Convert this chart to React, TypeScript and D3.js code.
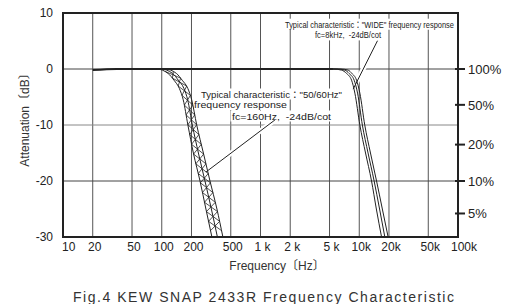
import React, { useEffect, useRef } from 'react'
import * as d3 from 'd3'

const W = 508
const H = 304
const margin = { left: 63, right: 50, top: 13, bottom: 67 }

// axis ticks
const freqTicks = [10, 20, 50, 100, 200, 500, 1000, 2000, 5000, 10000, 20000, 50000, 100000]
const freqLabels = ['10', '20', '50', '100', '200', '500', '1 k', '2 k', '5 k', '10k', '20k', '50k', '100k']
const gridFreqs = [20, 50, 100, 200, 500, 1000, 2000, 5000, 10000, 20000, 50000]
const dbTicks = [10, 0, -10, -20, -30]
const gridDb = [0, -10, -20]
const pctLabels = ['100%', '50%', '20%', '10%', '5%']
const pctDb = [0, -6.4, -13.5, -20, -25.8]

// common flat part of both responses
const flatFreq = [20, 35, 5400]
const flatDb = [-0.2, 0, 0]

// "50/60Hz" low-pass band (min / typical / max)
const lpfDb = [0, 0, -0.8, -2, -3.5, -5.5, -10, -15, -20, -25, -30]
const lpfLow = [70, 89, 116, 133, 151, 165, 184, 209, 244, 280, 322]
const lpfMid = [75, 98, 129, 147, 168, 183, 204, 235, 274, 318, 366]
const lpfHigh = [80, 108, 141, 161, 184, 201, 226, 264, 308, 362, 416]

// "WIDE" band
const wideDb = [0, 0, -0.2, -0.8, -2, -4.3, -10, -15, -20, -25, -30]
const wideLow = [4500, 5400, 6620, 7440, 8360, 9030, 10140, 11580, 13320, 14900, 16820]
const wideMid = [4800, 5930, 7150, 7900, 8880, 9610, 10750, 12280, 14150, 16060, 18160]
const wideHigh = [5100, 6510, 7720, 8420, 9390, 10140, 11370, 12990, 14970, 17130, 19610]

// annotation leaders [freq, dB]
const wideLeader = [[15300, 5.05], [8670, -3.6]]
const lpfLeader = [[1400, -9.1], [280, -18.4]]

const wideNote = [
  { text: 'Typical characteristic：\u0022WIDE\u0022 frequency response', x: 285, y: 27.7, len: 169 },
  { text: 'fc=8kHz,  -24dB/cot', x: 315, y: 38.4, len: 66 },
]
const lpfNote = [
  { text: 'Typical characteristic：\u002250/60Hz\u0022', x: 201, y: 97.5, len: 141 },
  { text: 'frequency response', x: 194, y: 108, len: 93 },
  { text: 'fc=160Hz,  -24dB/cot', x: 232, y: 119.5, len: 99 },
]

const font = "'Liberation Sans', Arial, 'Noto Sans CJK JP', sans-serif"
const ink = '#222'

export default function App() {
  const lowRef = useRef<SVGPathElement>(null)
  const midRef = useRef<SVGPathElement>(null)
  const highRef = useRef<SVGPathElement>(null)
  const hatchRef = useRef<SVGGElement>(null)

  const x = d3.scaleLog().domain([10, 100000]).range([margin.left, W - margin.right])
  const y = d3.scaleLinear().domain([-30, 10]).range([H - margin.bottom, margin.top])

  const line = d3.line<[number, number]>()
    .x(d => x(d[0]))
    .y(d => y(d[1]))
    .curve(d3.curveMonotoneX)

  const pts = (fs: number[], dbs: number[]) => fs.map((f, i) => [f, dbs[i]] as [number, number])

  useEffect(() => {
    // cross hatching between the outer curves of the 50/60Hz band
    const sample = (p: SVGPathElement) => {
      const n = p.getTotalLength()
      const out: number[][] = []
      for (let s = 0; s <= n; s += 0.5) {
        const q = p.getPointAtLength(s)
        out.push([q.x, q.y])
      }
      return out
    }
    const lo = sample(lowRef.current!)
    const hi = sample(highRef.current!)
    const mid = sample(midRef.current!)
    const xAt = (arr: number[][], yy: number) => {
      for (let i = 0; i < arr.length - 1; i++) {
        const a = arr[i], b = arr[i + 1]
        if (b[1] !== a[1] && yy >= a[1] && yy <= b[1]) {
          return a[0] + (b[0] - a[0]) * (yy - a[1]) / (b[1] - a[1])
        }
      }
      return arr[arr.length - 1][0]
    }
    const stations: number[] = []
    const yStart = y(-0.4)
    let acc = 0
    for (let i = 1; i < mid.length; i++) {
      const d = Math.hypot(mid[i][0] - mid[i - 1][0], mid[i][1] - mid[i - 1][1])
      if (mid[i][1] < yStart) continue
      acc += d
      if (stations.length === 0 || acc >= 9.5) {
        stations.push(mid[i][1])
        acc = 0
      }
    }
    const segs: number[][] = []
    for (let k = 0; k < stations.length - 1; k++) {
      const y0 = stations[k], y1 = stations[k + 1]
      segs.push([xAt(lo, y0), y0, xAt(hi, y1), y1])
      segs.push([xAt(hi, y0), y0, xAt(lo, y1), y1])
    }
    d3.select(hatchRef.current).selectAll('line')
      .data(segs)
      .join('line')
      .attr('x1', d => d[0]).attr('y1', d => d[1])
      .attr('x2', d => d[2]).attr('y2', d => d[3])
      .attr('stroke', ink)
      .attr('stroke-width', 0.8)
  }, [])

  const x0 = margin.left
  const x1 = W - margin.right
  const y0 = margin.top
  const y1 = H - margin.bottom

  const noteBoxes = (rows: typeof wideNote) => rows.map((r, i) => (
    <rect key={i} x={r.x - 1.5} y={r.y - 9} width={r.len + 3} height={11} fill="#fff" />
  ))
  const noteText = (rows: typeof wideNote) => rows.map((r, i) => (
    <text key={i} x={r.x} y={r.y} fontSize={9.5} textLength={r.len} lengthAdjust="spacingAndGlyphs"
      style={{ whiteSpace: 'pre' }} fill={ink}>{r.text}</text>
  ))

  return (
    <svg width={W} height={H} style={{ position: 'fixed', left: 0, top: 0, background: '#fff' }}
      fontFamily={font}>
      <rect width={W} height={H} fill="#fff" />

      {/* grid */}
      <g stroke="#555" strokeWidth={1}>
        {gridFreqs.map(f => <line key={f} x1={x(f)} x2={x(f)} y1={y0} y2={y1} />)}
        {gridDb.map(d => <line key={d} x1={x0} x2={x1} y1={y(d)} y2={y(d)} stroke={d === -10 ? '#888' : '#444'} />)}
      </g>

      {/* annotation backgrounds */}
      {noteBoxes(wideNote)}
      {noteBoxes(lpfNote)}
      <g stroke="#fff" strokeWidth={5}>
        {[wideLeader, lpfLeader].map((l, i) => (
          <line key={i} x1={x(l[0][0])} y1={y(l[0][1])} x2={x(l[1][0])} y2={y(l[1][1])} />
        ))}
      </g>

      {/* responses */}
      <g fill="none" stroke={ink}>
        <path d={line(pts(flatFreq, flatDb))!} strokeWidth={2} />
        <path ref={lowRef} d={line(pts(lpfLow, lpfDb))!} strokeWidth={1} />
        <path ref={midRef} d={line(pts(lpfMid, lpfDb))!} strokeWidth={1} />
        <path ref={highRef} d={line(pts(lpfHigh, lpfDb))!} strokeWidth={1} />
        <path d={line(pts(wideLow, wideDb))!} strokeWidth={1} />
        <path d={line(pts(wideMid, wideDb))!} strokeWidth={1} />
        <path d={line(pts(wideHigh, wideDb))!} strokeWidth={1} />
      </g>
      <g ref={hatchRef} />

      {/* leaders */}
      <g stroke={ink} strokeWidth={1}>
        {[wideLeader, lpfLeader].map((l, i) => (
          <line key={i} x1={x(l[0][0])} y1={y(l[0][1])} x2={x(l[1][0])} y2={y(l[1][1])} />
        ))}
      </g>

      {/* frame */}
      <rect x={x0} y={y0} width={x1 - x0} height={y1 - y0} fill="none" stroke={ink} strokeWidth={2} />

      {/* right % scale */}
      {pctDb.map((d, i) => (
        <g key={i}>
          <line x1={x1 - 3} x2={x1 + 7} y1={y(d)} y2={y(d)} stroke={ink} strokeWidth={2} />
          <text x={x1 + 10} y={y(d)} dy="0.36em" fontSize={13} fill={ink}>{pctLabels[i]}</text>
        </g>
      ))}

      {/* left axis labels */}
      {dbTicks.map(d => (
        <text key={d} x={x0 - 10} y={y(d)} dy="0.36em" fontSize={12} textAnchor="end" fill={ink}>{d}</text>
      ))}
      <text transform={`translate(25,${(y0 + y1) / 2 - 8}) rotate(-90)`} textAnchor="middle" dy="0.36em"
        fontSize={12} fill="#333">Attenuation〔dB〕</text>

      {/* bottom axis labels */}
      {freqTicks.map((f, i) => {
        const first = i === 0
        const last = i === freqTicks.length - 1
        return (
          <text key={f} x={x(f) + (first ? -1 : last ? 6 : 2)} y={251} fontSize={12}
            textAnchor={first ? 'start' : 'middle'} style={{ whiteSpace: 'pre' }} fill={ink}>{freqLabels[i]}</text>
        )
      })}
      <text x={277} y={270} textAnchor="middle" fontSize={12} fill="#333">Frequency〔Hz〕</text>

      {/* notes */}
      {noteText(wideNote)}
      {noteText(lpfNote)}

      <text x={73} y={302} fontSize={14} textLength={381} lengthAdjust="spacing" fill="#333">
        Fig.4 KEW SNAP 2433R Frequency Characteristic
      </text>
    </svg>
  )
}
